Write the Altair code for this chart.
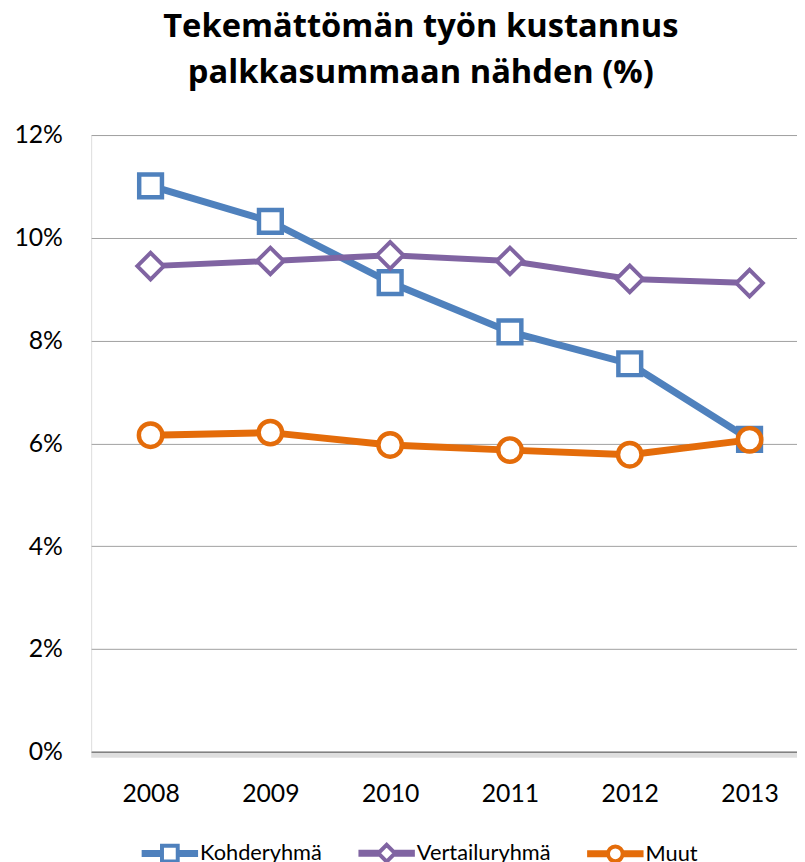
import altair as alt
import pandas as pd

years = ["2008", "2009", "2010", "2011", "2012", "2013"]
series = ["Kohderyhmä", "Vertailuryhmä", "Muut"]
kohde = [11.01, 10.32, 9.13, 8.17, 7.55, 6.08]
vertailu = [9.45, 9.55, 9.66, 9.55, 9.20, 9.12]
muut = [6.16, 6.21, 5.97, 5.87, 5.78, 6.07]
y_ticks = [0, 2, 4, 6, 8, 10, 12]
title_lines = ["Tekemättömän työn kustannus", "palkkasummaan nähden (%)"]

colors = ["#4F81BD", "#8064A2", "#E46C0A"]
FONT = "Lato"
TITLE_FONT = "Open Sans"

rows = []
for s, vals in zip(series, [kohde, vertailu, muut]):
    for yr, v in zip(years, vals):
        rows.append({"Vuosi": yr, "Sarja": s, "Arvo": v})
df = pd.DataFrame(rows)

x = alt.X("Vuosi:O", sort=years,
          scale=alt.Scale(type="point", padding=0.446, align=0.556),
          axis=alt.Axis(title=None, labelAngle=0, ticks=False, labelPadding=30,
                        labelFontSize=25, labelFont=FONT, labelColor="#000000",
                        domain=True, domainColor="#868686", domainWidth=1.5, grid=False))
y = alt.Y("Arvo:Q", scale=alt.Scale(domain=[0, 12], nice=False, zero=True),
          axis=alt.Axis(title=None, values=y_ticks, labelExpr="datum.value + '%'",
                        ticks=False, domain=False, grid=True, gridColor="#A0A0A0",
                        gridWidth=1, labelPadding=29, labelFontSize=25, labelFont=FONT,
                        labelColor="#000000"))
color_nolegend = alt.Color("Sarja:N", scale=alt.Scale(domain=series, range=colors), legend=None)

# legend symbol paths: line stub + marker + line stub (unit box [-1,1])
sq = "M-1,-0.057H-0.3V0.057H-1Z M0.3,-0.057H1V0.057H0.3Z M-0.3,-0.3H0.3V0.3H-0.3Z"
dm = "M-1,-0.057H-0.32V0.057H-1Z M0.32,-0.057H1V0.057H0.32Z M-0.32,0L0,-0.32L0.32,0L0,0.32Z"
ci = "M-1,-0.057H-0.283V0.057H-1Z M0.283,-0.057H1V0.057H0.283Z M0.28,0A0.28,0.28 0 1,1 -0.28,0A0.28,0.28 0 1,1 0.28,0Z"
legend_paths = [sq, dm, ci]

styles = {
    "Kohderyhmä": dict(lw=7, shape="square", size=529, sw=4.5),
    "Vertailuryhmä": dict(lw=6, shape="diamond", size=720, sw=4),
    "Muut": dict(lw=7, shape="circle", size=560, sw=4.5),
}

base = alt.Chart(df)

leg = alt.Legend(title=None, orient="none", legendX=51, legendY=697, direction="horizontal",
                 symbolSize=53 * 53, symbolStrokeWidth=4, labelFontSize=22, labelFont=FONT,
                 labelColor="#000000", labelOffset=2, columnPadding=30, padding=0,
                 symbolFillColor="white", symbolOpacity=1)
legend_layer = base.transform_filter("false").mark_point(filled=False, opacity=1, strokeWidth=4).encode(
    x=x, y=y,
    color=alt.Color("Sarja:N", scale=alt.Scale(domain=series, range=colors), legend=leg),
    shape=alt.Shape("Sarja:N", scale=alt.Scale(domain=series, range=legend_paths), legend=leg),
)

shadow = alt.Chart(pd.DataFrame({"v": [0]})).mark_rule(
    color="#000000", opacity=0.13, strokeWidth=5, yOffset=3.5
).encode(y=alt.Y("v:Q", scale=alt.Scale(domain=[0, 12], nice=False)))

layers = [legend_layer, shadow]
for s in series:
    st = styles[s]
    sub = base.transform_filter(alt.datum.Sarja == s)
    layers.append(sub.mark_line(strokeWidth=st["lw"]).encode(x=x, y=y, color=color_nolegend))
    layers.append(sub.mark_point(shape=st["shape"], size=st["size"], filled=False,
                                 fill="white", fillOpacity=1, opacity=1,
                                 strokeWidth=st["sw"]).encode(x=x, y=y, color=color_nolegend))

chart = alt.layer(*layers).properties(
    width=713, height=623,
    autosize="none",
    padding={"left": 84, "top": 124, "right": 0, "bottom": 107},
    title=alt.TitleParams(text=title_lines, fontSize=33, font=TITLE_FONT, fontWeight="bold",
                          color="#000000", anchor="middle", frame="group", dx=-23.5,
                          lineHeight=46, offset=34),
).configure_view(stroke=None).configure(background="white")

chart.save("out.html", embed_options={"renderer": "svg", "actions": False})
